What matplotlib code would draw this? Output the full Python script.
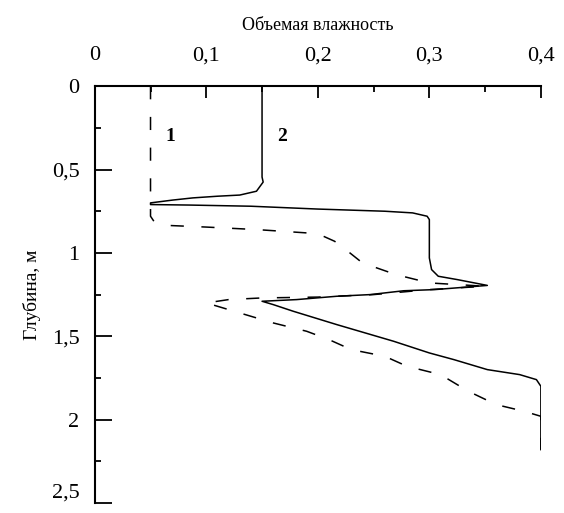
import matplotlib
matplotlib.use("Agg")
import matplotlib.pyplot as plt
from matplotlib.ticker import MultipleLocator, FuncFormatter

plt.rcParams['font.family'] = ['Liberation Serif', 'DejaVu Serif']

# curve 1 (dashed): volumetric moisture vs depth
moist_1 = [0.05, 0.05, 0.053, 0.065, 0.10, 0.145, 0.19, 0.205, 0.215, 0.225, 0.24, 0.27, 0.30,
           0.35, 0.30, 0.25, 0.20, 0.15, 0.12, 0.10, 0.11, 0.13, 0.16, 0.19, 0.21, 0.23, 0.26,
           0.28, 0.31, 0.335, 0.36, 0.385, 0.40, 0.40]
depth_1 = [0.0, 0.78, 0.81, 0.835, 0.845, 0.86, 0.88, 0.90, 0.93, 0.98, 1.06, 1.13, 1.18,
           1.20, 1.22, 1.25, 1.265, 1.27, 1.28, 1.30, 1.32, 1.36, 1.42, 1.47, 1.52, 1.58, 1.62,
           1.68, 1.73, 1.83, 1.91, 1.95, 1.98, 2.18]

# curve 2 (solid)
moist_2 = [0.15, 0.15, 0.151, 0.145, 0.13, 0.11, 0.088, 0.07, 0.05, 0.05, 0.085, 0.14, 0.20,
           0.26, 0.285, 0.298, 0.30, 0.30, 0.302, 0.308, 0.325, 0.352, 0.305, 0.277, 0.247,
           0.217, 0.181, 0.15, 0.16, 0.178, 0.217, 0.268, 0.30, 0.322, 0.352, 0.381, 0.396,
           0.40, 0.40]
depth_2 = [0.0, 0.545, 0.575, 0.63, 0.653, 0.66, 0.67, 0.683, 0.70, 0.71, 0.713, 0.72, 0.737,
           0.75, 0.76, 0.78, 0.80, 1.03, 1.10, 1.14, 1.16, 1.195, 1.22, 1.227, 1.25,
           1.26, 1.28, 1.29, 1.31, 1.35, 1.43, 1.53, 1.60, 1.64, 1.70, 1.73, 1.76,
           1.80, 2.18]

curve_labels = ["1", "2"]
label_pos = [(0.068, 0.30), (0.168, 0.30)]

y_max = 2.5

def comma(v, p=None):
    return '{:g}'.format(round(v, 2)).replace('.', ',')

fig = plt.figure(figsize=(5.64, 5.13), dpi=100)
ax = fig.add_axes([0.168, 0.0195, 0.791, 0.8125])

ax.plot(moist_1, depth_1, color='black', lw=1.1, linestyle=(0, (8.6, 11.5)))
ax.plot(moist_2, depth_2, color='black', lw=1.1)

for txt, (x, y) in zip(curve_labels, label_pos):
    ax.text(x, y, txt, fontsize=14, fontweight='bold', ha='center', va='center')

ax.set_xlim(0, 0.4)
ax.set_ylim(y_max, 0)

ax.spines['right'].set_visible(False)
ax.spines['bottom'].set_visible(False)
ax.spines['top'].set_linewidth(1.5)
ax.spines['left'].set_linewidth(1.5)

ax.xaxis.set_ticks_position('top')
ax.xaxis.set_label_position('top')
ax.xaxis.set_major_locator(MultipleLocator(0.1))
ax.xaxis.set_minor_locator(MultipleLocator(0.05))
ax.yaxis.set_major_locator(MultipleLocator(0.5))
ax.yaxis.set_minor_locator(MultipleLocator(0.25))

ax.xaxis.set_major_formatter(FuncFormatter(comma))
# last depth label is drawn separately, slightly above its tick
ax.yaxis.set_major_formatter(FuncFormatter(lambda v, p: '' if v >= y_max - 1e-9 else comma(v)))

ax.tick_params(axis='x', which='major', direction='in', length=8.5, width=1.3, pad=15, labelsize=16)
ax.tick_params(axis='x', which='minor', direction='in', length=4.5, width=1.3)
ax.tick_params(axis='y', which='major', direction='in', length=12, width=1.3, pad=11, labelsize=16)
ax.tick_params(axis='y', which='minor', direction='in', length=4.5, width=1.3)

ax.annotate(comma(y_max), xy=(0, y_max), xycoords=('axes fraction', 'data'),
            xytext=(-11, 0), textcoords='offset points', ha='right', va='bottom',
            fontsize=16, annotation_clip=False)

ax.set_xlabel('Объемая влажность', fontsize=13, labelpad=12)
ax.set_ylabel('Глубина, м', fontsize=14, labelpad=8)

fig.savefig('out.png', dpi=100)
